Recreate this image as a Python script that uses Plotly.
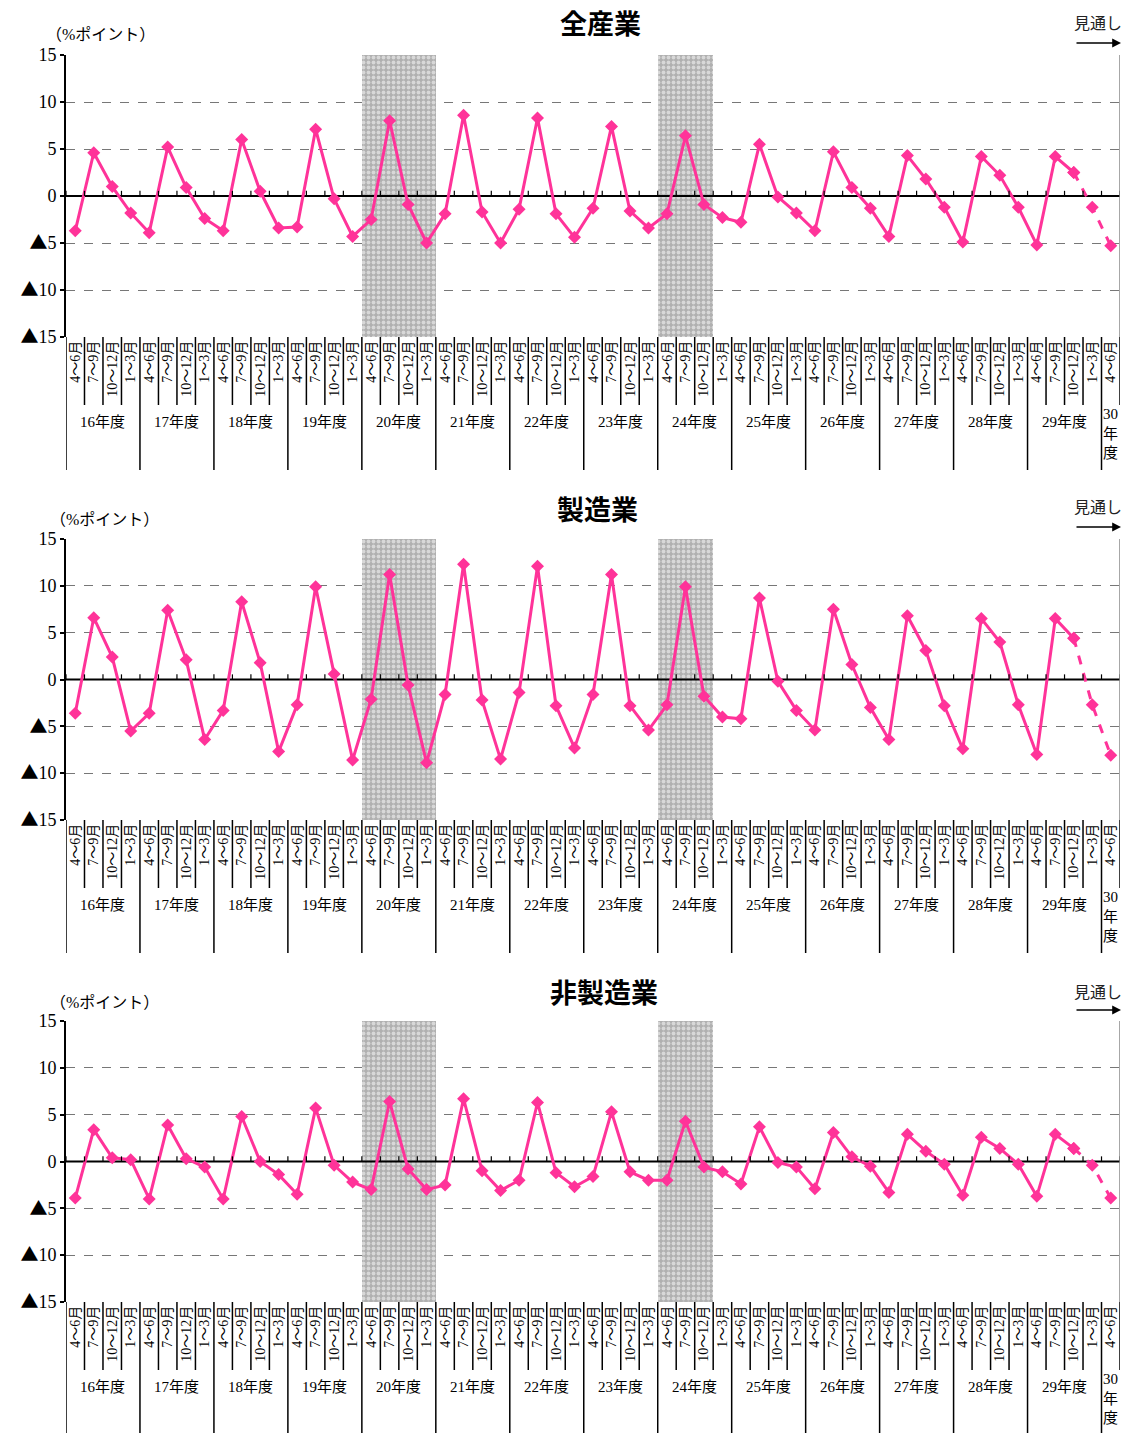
import plotly.graph_objects as go

W, H = 1127, 1433

# ---------------- data ----------------
fiscal_years = ["16年度", "17年度", "18年度", "19年度", "20年度", "21年度", "22年度",
                "23年度", "24年度", "25年度", "26年度", "27年度", "28年度", "29年度"]
last_year_label = "30<br>年<br>度"
quarter_labels = ["4～6月", "7～9月", "10～12月", "1～3月"]
last_quarters = ["4～6月"]

titles = ["全産業", "製造業", "非製造業"]

all_industries = [-3.7, 4.6, 1.0, -1.8, -3.9, 5.2, 0.9, -2.4, -3.7, 6.0, 0.5, -3.4,
                  -3.3, 7.1, -0.3, -4.3, -2.5, 8.0, -0.9, -5.0, -1.9, 8.6, -1.7, -5.0,
                  -1.4, 8.3, -1.9, -4.4, -1.3, 7.4, -1.6, -3.4, -1.9, 6.4, -0.9, -2.3,
                  -2.8, 5.5, -0.1, -1.8, -3.7, 4.7, 0.9, -1.3, -4.3, 4.3, 1.8, -1.2,
                  -4.9, 4.2, 2.2, -1.2, -5.2, 4.2, 2.5, -1.2, -5.3]
manufacturing = [-3.6, 6.6, 2.4, -5.5, -3.6, 7.4, 2.1, -6.4, -3.3, 8.3, 1.8, -7.7,
                 -2.7, 9.9, 0.6, -8.6, -2.1, 11.2, -0.6, -8.9, -1.6, 12.3, -2.2, -8.5,
                 -1.4, 12.1, -2.8, -7.3, -1.6, 11.2, -2.8, -5.4, -2.7, 9.9, -1.8, -4.0,
                 -4.2, 8.7, -0.2, -3.3, -5.4, 7.5, 1.6, -3.0, -6.4, 6.8, 3.1, -2.8,
                 -7.4, 6.5, 4.0, -2.7, -8.0, 6.5, 4.4, -2.7, -8.1]
non_manufacturing = [-3.9, 3.4, 0.4, 0.2, -4.0, 3.9, 0.3, -0.6, -4.0, 4.8, 0.0, -1.4,
                     -3.5, 5.7, -0.4, -2.2, -3.0, 6.4, -0.8, -3.0, -2.5, 6.7, -1.0, -3.1,
                     -2.0, 6.3, -1.2, -2.7, -1.6, 5.3, -1.1, -2.0, -2.0, 4.3, -0.6, -1.1,
                     -2.4, 3.7, -0.1, -0.6, -2.9, 3.1, 0.5, -0.5, -3.3, 2.9, 1.1, -0.3,
                     -3.6, 2.6, 1.4, -0.3, -3.7, 2.9, 1.4, -0.4, -3.9]
series = [all_industries, manufacturing, non_manufacturing]

shaded_quarters = [16, 17, 18, 19, 32, 33, 34]   # recession shading (category index)
forecast_from = 54                              # dashed (見通し) segment starts here

y_tickvals = [15, 10, 5, 0, -5, -10, -15]
TRI = "<span style=\"font-family:'Noto Sans CJK JP'\">▲</span>"
y_ticktext = ["15", "10", "5", "0", TRI + "5", TRI + "10", TRI + "15"]

# ---------------- layout helpers ----------------
PINK = "#FF3399"
SERIF = "Liberation Serif, 'Noto Sans CJK JP', serif"
SANS = "'Noto Sans CJK JP', sans-serif"

def px(p):
    return p / W

def py(p):
    return 1 - p / H

plot_left, plot_right = 66, 1120
panel_top = [55, 539, 1021]
panel_bottom = [337, 820, 1302]
title_y = [22, 508, 992]
title_x = [600, 597, 604]
unit_x = [100, 104, 104]
unit_y = [35, 519, 1002]
fc_text_y = [22, 506, 991]
fc_arrow_y = [43, 527, 1010]

tick_text = [q for _ in fiscal_years for q in quarter_labels] + last_quarters
n = len(tick_text)
xs = list(range(n))

fig = go.Figure()
shapes = []
annotations = []
layout = dict(width=W, height=H, margin=dict(l=0, r=0, t=0, b=0, autoexpand=False),
              paper_bgcolor="white", plot_bgcolor="white", showlegend=False,
              font=dict(family=SERIF, color="black"))

for i in range(3):
    xa = "x" if i == 0 else f"x{i+1}"
    ya = "y" if i == 0 else f"y{i+1}"
    xkey = "xaxis" if i == 0 else f"xaxis{i+1}"
    ykey = "yaxis" if i == 0 else f"yaxis{i+1}"
    top, bot = panel_top[i], panel_bottom[i]

    layout[xkey] = dict(domain=[px(plot_left), px(plot_right)], anchor=ya,
                        range=[-0.5, n - 0.5], tickmode="array", tickvals=xs,
                        ticktext=tick_text, tickangle=-90, showgrid=False,
                        zeroline=False, showline=False, ticks="", automargin=False,
                        tickfont=dict(family=SERIF, size=14, color="black"))
    layout[ykey] = dict(domain=[py(bot), py(top)], anchor=xa, range=[-15, 15],
                        tickmode="array", tickvals=y_tickvals, ticktext=y_ticktext,
                        showgrid=True, griddash="dash", gridcolor="#777777", gridwidth=1,
                        zeroline=False, showline=True, linecolor="black", linewidth=2,
                        ticks="outside", ticklen=4, tickcolor="black", tickwidth=1.5,
                        automargin=False,
                        tickfont=dict(family=SERIF, size=18, color="black"))

    # recession shading
    fig.add_trace(go.Bar(x=shaded_quarters, y=[30] * len(shaded_quarters), base=-15,
                         width=1, xaxis=xa, yaxis=ya, hoverinfo="skip",
                         marker=dict(color="#b4b4b4", line=dict(width=0),
                                     pattern=dict(shape=".", bgcolor="#b0b0b0",
                                                  fgcolor="white", size=5, solidity=0.45))))
    # zero line
    fig.add_trace(go.Scatter(x=[-0.5, n - 0.5], y=[0, 0], mode="lines", xaxis=xa, yaxis=ya,
                             line=dict(color="black", width=2), hoverinfo="skip"))
    vals = series[i]
    fig.add_trace(go.Scatter(x=xs[:forecast_from + 1], y=vals[:forecast_from + 1],
                             mode="lines+markers", xaxis=xa, yaxis=ya,
                             line=dict(color=PINK, width=3),
                             marker=dict(symbol="diamond", size=10, color=PINK)))
    fig.add_trace(go.Scatter(x=xs[forecast_from:], y=vals[forecast_from:],
                             mode="lines+markers", xaxis=xa, yaxis=ya,
                             line=dict(color=PINK, width=3, dash="dash"),
                             marker=dict(symbol="diamond", size=10, color=PINK)))

    # small ticks on zero line
    for b in range(n + 1):
        shapes.append(dict(type="line", xref=xa, yref=ya, x0=b - 0.5, x1=b - 0.5,
                           y0=0, y1=0.55, line=dict(color="black", width=1.2), layer="above"))
    # right border
    shapes.append(dict(type="line", xref=xa, yref=ya, x0=n - 0.5, x1=n - 0.5, y0=-15, y1=15,
                       line=dict(color="#8a8a8a", width=1.5)))
    # category table separators
    for b in range(n + 1):
        long_line = (b % 4 == 0) and b < n
        shapes.append(dict(type="line", xref=xa, yref="paper", x0=b - 0.5, x1=b - 0.5,
                           y0=py(bot), y1=py(bot + (133 if long_line else 68)),
                           line=dict(color="black", width=1.5)))
    # year labels
    for k, fy in enumerate(fiscal_years):
        annotations.append(dict(text=fy, xref=xa, yref="paper", x=4 * k + 1.5,
                                y=py(bot + 85), showarrow=False, yanchor="middle",
                                font=dict(family=SERIF, size=15, color="black")))
    annotations.append(dict(text=last_year_label, xref=xa, yref="paper", x=n - 1,
                            y=py(bot + 67), showarrow=False, yanchor="top",
                            font=dict(family=SERIF, size=15, color="black")))
    # title
    annotations.append(dict(text="<b>" + titles[i] + "</b>", xref="paper", yref="paper",
                            x=px(title_x[i]), y=py(title_y[i]), showarrow=False,
                            xanchor="center", yanchor="middle",
                            font=dict(family=SANS, size=27, color="black")))
    # unit
    annotations.append(dict(text="（%ポイント）", xref="paper", yref="paper",
                            x=px(unit_x[i]), y=py(unit_y[i]), showarrow=False,
                            xanchor="center", yanchor="middle",
                            font=dict(family=SERIF, size=16, color="black")))
    # forecast marker
    annotations.append(dict(text="見通し", xref="paper", yref="paper",
                            x=px(1098), y=py(fc_text_y[i]), showarrow=False,
                            xanchor="center", yanchor="middle",
                            font=dict(family=SANS, size=16, color="#222222")))
    annotations.append(dict(text="", xref="paper", yref="paper",
                            x=px(1121), y=py(fc_arrow_y[i]), ax=-46, ay=0,
                            showarrow=True, arrowhead=2, arrowsize=1.1, arrowwidth=1.6,
                            arrowcolor="black"))

layout["shapes"] = shapes
layout["annotations"] = annotations
layout["bargap"] = 0
fig.update_layout(**layout)

fig.write_html("out.html")
